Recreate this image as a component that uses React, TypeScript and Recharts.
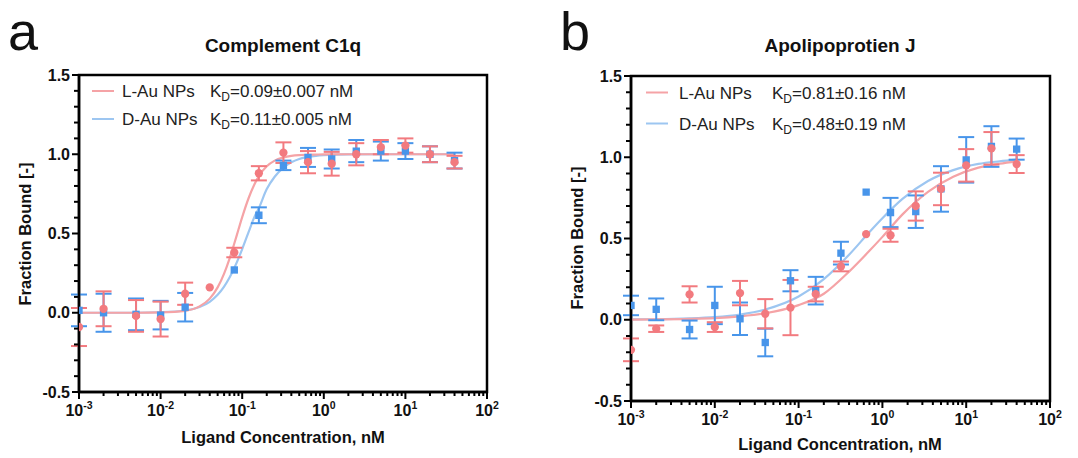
import React from 'react';
import {
  ComposedChart,
  Line,
  Scatter,
  ErrorBar,
  XAxis,
  YAxis,
  ZAxis,
  ReferenceArea,
} from 'recharts';

// ligand concentrations (nM), shared by both panels
const concentrations = [0.001, 0.002, 0.005, 0.01, 0.02, 0.04, 0.08, 0.16, 0.32, 0.64, 1.25, 2.5, 5, 10, 20, 40];

// panel a - Complement C1q
const c1qL = [-0.09, 0.025, -0.02, -0.04, 0.12, 0.16, 0.38, 0.88, 1.01, 0.95, 0.94, 1.0, 1.045, 1.055, 1.0, 0.95];
const c1qLErr = [0.12, 0.11, 0.1, 0.11, 0.07, 0, 0.03, 0.045, 0.065, 0.07, 0.075, 0.07, 0.045, 0.045, 0.05, 0.04];
const c1qD = [0.015, 0.0, -0.01, -0.015, 0.035, null, 0.27, 0.615, 0.93, 0.98, 0.97, 1.02, 1.02, 1.02, 1.0, 0.96];
const c1qDErr = [0.1, 0.12, 0.1, 0.09, 0.09, null, 0, 0.05, 0.03, 0.06, 0.06, 0.07, 0.06, 0.05, 0.05, 0.05];

// fitted curves
const c1qFitX = [0.001, 0.005, 0.01, 0.02, 0.03, 0.04, 0.05, 0.06, 0.07, 0.08, 0.09, 0.1, 0.12, 0.14, 0.16, 0.2, 0.25, 0.32, 0.4, 0.5, 0.64, 0.8, 1, 2, 5, 10, 20, 40];
const c1qFitL = [0, 0, 0.002, 0.012, 0.04, 0.089, 0.16, 0.247, 0.342, 0.437, 0.525, 0.603, 0.724, 0.806, 0.862, 0.924, 0.96, 0.98, 0.99, 0.995, 0.997, 0.998, 0.999, 1, 1, 1, 1, 1];
const c1qFitD = [0, 0, 0.003, 0.014, 0.036, 0.069, 0.113, 0.165, 0.222, 0.282, 0.343, 0.402, 0.51, 0.6, 0.66, 0.78, 0.858, 0.916, 0.949, 0.97, 0.983, 0.99, 0.994, 0.999, 1, 1, 1, 1];

// panel b - Apolipoprotien J
const apoL = [-0.185, -0.055, 0.156, -0.045, 0.164, 0.037, 0.075, 0.158, 0.328, 0.527, 0.52, 0.7, 0.805, 0.95, 1.055, 0.958];
const apoLErr = [0.07, 0.02, 0.05, 0.03, 0.075, 0.09, 0.17, 0.045, 0.03, 0, 0.04, 0.09, 0.1, 0.1, 0.1, 0.055];
const apoD = [0.088, 0.064, -0.06, 0.088, 0.006, -0.14, 0.24, 0.179, 0.41, 0.785, 0.66, 0.665, 0.805, 0.984, 1.066, 1.05];
const apoDErr = [0.06, 0.067, 0.055, 0.115, 0.1, 0.085, 0.065, 0.085, 0.07, 0, 0.09, 0.1, 0.14, 0.14, 0.125, 0.065];

const apoFitX = [0.001, 0.002, 0.005, 0.01, 0.02, 0.04, 0.1, 0.2, 0.4, 0.7, 1, 1.75, 3.5, 7, 14, 25, 40];
const apoFitL = [0.001, 0.002, 0.005, 0.01, 0.021, 0.04, 0.09, 0.16, 0.296, 0.424, 0.51, 0.65, 0.787, 0.88, 0.936, 0.96, 0.975];
const apoFitD = [0.002, 0.003, 0.008, 0.016, 0.032, 0.063, 0.143, 0.25, 0.4, 0.54, 0.625, 0.745, 0.854, 0.921, 0.959, 0.975, 0.985];

// axis ticks
const xMajorTicks = [0.001, 0.01, 0.1, 1, 10, 100];
const xExponents = ['-3', '-2', '-1', '0', '1', '2'];
const xMinorFactors = [2, 3, 4, 5, 6, 7, 8, 9];
const yTicks = [-0.5, -0.4, -0.3, -0.2, -0.1, 0, 0.1, 0.2, 0.3, 0.4, 0.5, 0.6, 0.7, 0.8, 0.9, 1.0, 1.1, 1.2, 1.3, 1.4, 1.5];
const yMajorTicks = [-0.5, 0, 0.5, 1.0, 1.5];
const yLabels = ['-0.5', '0.0', '0.5', '1.0', '1.5'];

const xTicks = xMajorTicks.flatMap((d, i) =>
  i < xMajorTicks.length - 1 ? [d, ...xMinorFactors.map((f) => d * f)] : [d]
);

const RED = '#F27A7F';
const RED_FIT = '#F5A3A6';
const BLUE = '#4895EA';
const BLUE_FIT = '#9DC6F1';
const FONT = "'Liberation Sans', Arial, sans-serif";

const toPoints = (vals: (number | null)[], errs: (number | null)[]) =>
  concentrations
    .map((x, i) => (vals[i] == null ? null : { x, y: vals[i], err: errs[i] }))
    .filter(Boolean) as { x: number; y: number; err: number }[];

const toCurve = (xs: number[], ys: number[]) => xs.map((x, i) => ({ x, y: ys[i] }));

const XTick = (props: any) => {
  const { x, y, payload } = props;
  const v = payload.value;
  const idx = xMajorTicks.findIndex((m) => Math.abs(m - v) / m < 1e-6);
  const major = idx >= 0;
  return (
    <g>
      <line x1={x} x2={x} y1={y} y2={y + (major ? 7 : 4)} stroke="#000" strokeWidth={2} />
      {major && (
        <text x={x} y={y + 24} textAnchor="middle" fontFamily={FONT} fontWeight="bold" fontSize={16} fill="#111">
          10<tspan dy={-7} fontSize={10.5}>{xExponents[idx]}</tspan>
        </text>
      )}
    </g>
  );
};

const YTick = (props: any) => {
  const { x, y, payload } = props;
  const v = payload.value;
  const idx = yMajorTicks.findIndex((m) => Math.abs(m - v) < 1e-6);
  const major = idx >= 0;
  return (
    <g>
      <line x1={x} x2={x - (major ? 7 : 5)} y1={y} y2={y} stroke="#000" strokeWidth={2} />
      {major && (
        <text x={x - 9} y={y + 5.5} textAnchor="end" fontFamily={FONT} fontWeight="bold" fontSize={16} fill="#111">
          {yLabels[idx]}
        </text>
      )}
    </g>
  );
};

type PanelProps = {
  left: number;
  width: number;
  margin: { top: number; right: number; bottom: number; left: number };
  lPts: { x: number; y: number; err: number }[];
  dPts: { x: number; y: number; err: number }[];
  lFit: { x: number; y: number }[];
  dFit: { x: number; y: number }[];
};

const Panel = ({ left, width, margin, lPts, dPts, lFit, dFit }: PanelProps) => (
  <div style={{ position: 'absolute', left, top: 0 }}>
    <ComposedChart width={width} height={458} margin={margin}>
      <XAxis
        dataKey="x"
        type="number"
        scale="log"
        domain={[0.001, 100]}
        allowDataOverflow
        ticks={xTicks}
        interval={0}
        tick={<XTick />}
        tickLine={false}
        tickSize={0}
        tickMargin={0}
        height={40}
        axisLine={{ stroke: '#000', strokeWidth: 2.5 }}
      />
      <YAxis
        dataKey="y"
        type="number"
        domain={[-0.5, 1.5]}
        ticks={yTicks}
        interval={0}
        tick={<YTick />}
        tickLine={false}
        tickSize={0}
        tickMargin={0}
        width={60}
        axisLine={{ stroke: '#000', strokeWidth: 2.5 }}
      />
      <ZAxis range={[54, 54]} />
      <ReferenceArea x1={0.001} x2={100} y1={-0.5} y2={1.5} fill="none" stroke="#000" strokeWidth={2.5} ifOverflow="visible" />
      <Line data={dFit} dataKey="y" type="monotone" stroke={BLUE_FIT} strokeWidth={2.2} dot={false} activeDot={false} isAnimationActive={false} />
      <Line data={lFit} dataKey="y" type="monotone" stroke={RED_FIT} strokeWidth={2.2} dot={false} activeDot={false} isAnimationActive={false} />
      <Scatter data={dPts} dataKey="y" fill={BLUE} shape="square" isAnimationActive={false}>
        <ErrorBar dataKey="err" direction="y" width={8} stroke={BLUE} strokeWidth={2} />
      </Scatter>
      <Scatter data={lPts} dataKey="y" fill={RED} shape="circle" isAnimationActive={false}>
        <ErrorBar dataKey="err" direction="y" width={8} stroke={RED} strokeWidth={2} />
      </Scatter>
    </ComposedChart>
  </div>
);

const LegendRows = ({ lineX, textX, kX, rows }: { lineX: number; textX: number; kX: number; rows: { y: number; color: string; name: string; kd: string }[] }) => (
  <g fontFamily={FONT} fill="#222">
    {rows.map((r) => (
      <g key={r.name}>
        <line x1={lineX} x2={lineX + 22} y1={r.y} y2={r.y} stroke={r.color} strokeWidth={2} />
        <text x={textX} y={r.y + 6} fontSize={17}>{r.name}</text>
        <text x={kX} y={r.y + 6} fontSize={17}>
          K<tspan dy={4} fontSize={12}>D</tspan>
          <tspan dy={-4}>{r.kd}</tspan>
        </text>
      </g>
    ))}
  </g>
);

export default function App() {
  return (
    <div style={{ position: 'absolute', left: 0, top: 0, width: 1078, height: 458, background: '#fff', overflow: 'hidden' }}>
      <Panel
        left={0}
        width={540}
        margin={{ top: 75, right: 53, bottom: 26, left: 19 }}
        lPts={toPoints(c1qL, c1qLErr)}
        dPts={toPoints(c1qD, c1qDErr)}
        lFit={toCurve(c1qFitX, c1qFitL)}
        dFit={toCurve(c1qFitX, c1qFitD)}
      />
      <Panel
        left={540}
        width={538}
        margin={{ top: 76, right: 28, bottom: 17, left: 31 }}
        lPts={toPoints(apoL, apoLErr)}
        dPts={toPoints(apoD, apoDErr)}
        lFit={toCurve(apoFitX, apoFitL)}
        dFit={toCurve(apoFitX, apoFitD)}
      />
      <svg width={1078} height={458} style={{ position: 'absolute', left: 0, top: 0, pointerEvents: 'none' }}>
        <text x={8} y={50} fontFamily={FONT} fontSize={54} fill="#111">a</text>
        <text x={560} y={50} fontFamily={FONT} fontSize={54} fill="#111">b</text>
        <text x={283} y={52} textAnchor="middle" fontFamily={FONT} fontWeight="bold" fontSize={19} fill="#111">Complement C1q</text>
        <text x={840} y={52} textAnchor="middle" fontFamily={FONT} fontWeight="bold" fontSize={19} fill="#111">Apolipoprotien J</text>

        <text x={283} y={443} textAnchor="middle" fontFamily={FONT} fontWeight="bold" fontSize={16.5} fill="#111">Ligand Concentration, nM</text>
        <text x={840} y={450} textAnchor="middle" fontFamily={FONT} fontWeight="bold" fontSize={16.5} fill="#111">Ligand Concentration, nM</text>
        <text transform="translate(31,234) rotate(-90)" textAnchor="middle" fontFamily={FONT} fontWeight="bold" fontSize={16.5} fill="#111">Fraction Bound [-]</text>
        <text transform="translate(583,238) rotate(-90)" textAnchor="middle" fontFamily={FONT} fontWeight="bold" fontSize={16.5} fill="#111">Fraction Bound [-]</text>

        <LegendRows
          lineX={92}
          textX={122}
          kX={210}
          rows={[
            { y: 91, color: RED_FIT, name: 'L-Au NPs', kd: '=0.09±0.007 nM' },
            { y: 119, color: BLUE_FIT, name: 'D-Au NPs', kd: '=0.11±0.005 nM' },
          ]}
        />
        <LegendRows
          lineX={646}
          textX={679}
          kX={772}
          rows={[
            { y: 92.5, color: RED_FIT, name: 'L-Au NPs', kd: '=0.81±0.16 nM' },
            { y: 123.5, color: BLUE_FIT, name: 'D-Au NPs', kd: '=0.48±0.19 nM' },
          ]}
        />
      </svg>
    </div>
  );
}
